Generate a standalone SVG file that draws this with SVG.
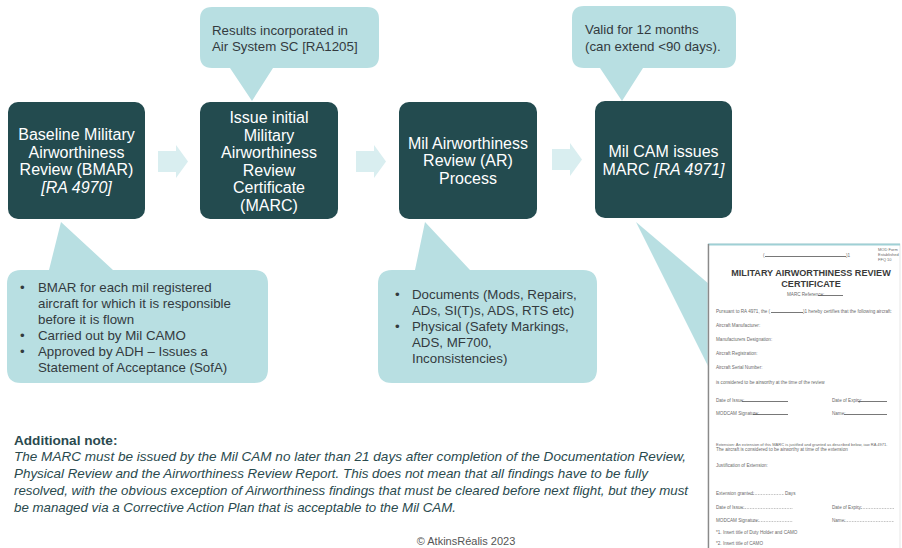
<svg xmlns="http://www.w3.org/2000/svg" width="902" height="548" viewBox="0 0 902 548">
<defs>
<style>
.box{fill:#234B4F;}
.call{fill:#B8DFE2;}
.arr{fill:#D9EEF0;}
.bt{font-family:"Liberation Sans",Arial,sans-serif;font-size:16px;fill:#FFFFFF;text-anchor:middle;}
.ct{font-family:"Liberation Sans",Arial,sans-serif;font-size:13.3px;fill:#333A3E;}
.note{font-family:"Liberation Sans",Arial,sans-serif;font-size:13.4px;fill:#2A4A4E;}
.cert{font-family:"Liberation Sans",Arial,sans-serif;font-size:4.6px;fill:#6A6A6A;}
.ln{stroke:#555;stroke-width:0.8;}
.dl{stroke:#888;stroke-width:0.6;stroke-dasharray:0.8 0.8;}
</style>
</defs>
<rect width="902" height="548" fill="#FFFFFF"/>

<!-- callouts -->
<g id="callout-results">
<path class="call" d="M212,7 H367 Q379,7 379,19 V56 Q379,68 367,68 H273 L252,101 L230,68 H212 Q200,68 200,56 V19 Q200,7 212,7 Z"/>
<text class="ct" x="212" y="35">Results incorporated in</text>
<text class="ct" x="212" y="51">Air System SC [RA1205]</text>
</g>
<g id="callout-valid">
<path class="call" d="M584,6 H724 Q736,6 736,18 V56 Q736,68 724,68 H643 L622,101 L600,68 H584 Q572,68 572,56 V18 Q572,6 584,6 Z"/>
<text class="ct" x="585" y="34">Valid for 12 months</text>
<text class="ct" x="585" y="51">(can extend &lt;90 days).</text>
</g>
<g id="callout-bmar">
<path class="call" d="M21,270 H49 L61,222 L113,270 H254 Q268,270 268,284 V369 Q268,383 254,383 H21 Q7,383 7,369 V284 Q7,270 21,270 Z"/>
<text class="ct" x="20" y="292">•</text><text class="ct" x="38" y="292">BMAR for each mil registered</text>
<text class="ct" x="38" y="308">aircraft for which it is responsible</text>
<text class="ct" x="38" y="324">before it is flown</text>
<text class="ct" x="20" y="340">•</text><text class="ct" x="38" y="340">Carried out by Mil CAMO</text>
<text class="ct" x="20" y="356">•</text><text class="ct" x="38" y="356">Approved by ADH – Issues a</text>
<text class="ct" x="38" y="372">Statement of Acceptance (SofA)</text>
</g>
<g id="callout-ar">
<path class="call" d="M392,270 H415 L425,222 L470,270 H583 Q597,270 597,284 V369 Q597,383 583,383 H392 Q378,383 378,369 V284 Q378,270 392,270 Z"/>
<text class="ct" x="395" y="299">•</text><text class="ct" x="412" y="299">Documents (Mods, Repairs,</text>
<text class="ct" x="412" y="315">ADs, SI(T)s, ADS, RTS etc)</text>
<text class="ct" x="395" y="331">•</text><text class="ct" x="412" y="331">Physical (Safety Markings,</text>
<text class="ct" x="412" y="347">ADS, MF700,</text>
<text class="ct" x="412" y="363">Inconsistencies)</text>
</g>
<g id="callout-cert">
<polygon class="call" points="636,222 709,284 709,368"/>
</g>

<!-- connectors -->
<g id="connectors">
<polygon class="arr" points="158,151 176,151 176,145 188,161.5 176,178 176,172 158,172"/>
<polygon class="arr" points="356,151 374,151 374,145 386,161.5 374,178 374,172 356,172"/>
<polygon class="arr" points="552,149 570,149 570,143 582,159.5 570,176 570,170 552,170"/>
</g>

<!-- process nodes -->
<g id="node-bmar">
<rect class="box" x="8" y="102" width="137" height="117" rx="10"/>
<text class="bt" x="76.5" y="140">Baseline Military</text>
<text class="bt" x="76.5" y="157.5">Airworthiness</text>
<text class="bt" x="76.5" y="175">Review (BMAR)</text>
<text class="bt" x="76.5" y="192.5" font-style="italic">[RA 4970]</text>
</g>
<g id="node-issue">
<rect class="box" x="200" y="102" width="138" height="117" rx="10"/>
<text class="bt" x="269" y="123">Issue initial</text>
<text class="bt" x="269" y="140.5">Military</text>
<text class="bt" x="269" y="158">Airworthiness</text>
<text class="bt" x="269" y="175.5">Review</text>
<text class="bt" x="269" y="193">Certificate</text>
<text class="bt" x="269" y="210.5">(MARC)</text>
</g>
<g id="node-ar">
<rect class="box" x="399" y="102" width="138" height="117" rx="10"/>
<text class="bt" x="468" y="148.5">Mil Airworthiness</text>
<text class="bt" x="468" y="166">Review (AR)</text>
<text class="bt" x="468" y="183.5">Process</text>
</g>
<g id="node-marc">
<rect class="box" x="595" y="101" width="137" height="117" rx="10"/>
<text class="bt" x="663.5" y="157">Mil CAM issues</text>
<text class="bt" x="663.5" y="174.5">MARC <tspan font-style="italic">[RA 4971]</tspan></text>
</g>

<!-- certificate -->
<g id="certificate">
<rect x="708" y="244" width="192" height="306" fill="#FFFFFF" stroke="#E2E2E2" stroke-width="0.8"/>
<line x1="708" y1="244.5" x2="900" y2="244.5" stroke="#9FD0D5" stroke-width="2"/>
<line x1="708.5" y1="244" x2="708.5" y2="548" stroke="#8A8A8A" stroke-width="1.4"/>
<text class="cert" x="763" y="257">(</text>
<line class="ln" x1="765" y1="256.5" x2="846" y2="256.5"/>
<text class="cert" x="846" y="257">)1</text>
<text class="cert" x="878" y="251" style="font-size:4px">MOD Form</text>
<text class="cert" x="878" y="256" style="font-size:4px">Established</text>
<text class="cert" x="878" y="261" style="font-size:4px">FFQ 10</text>
<text x="811" y="276" font-family="Liberation Sans,Arial,sans-serif" font-size="9.1" font-weight="bold" fill="#3A3A3A" text-anchor="middle">MILITARY AIRWORTHINESS REVIEW</text>
<text x="811" y="287" font-family="Liberation Sans,Arial,sans-serif" font-size="9.1" font-weight="bold" fill="#3A3A3A" text-anchor="middle">CERTIFICATE</text>
<text class="cert" x="787" y="296">MARC Reference:</text>
<line class="ln" x1="818" y1="295.5" x2="843" y2="295.5"/>
<text class="cert" x="716" y="313">Pursuant to RA 4971, the (</text>
<line class="ln" x1="771" y1="312.5" x2="803" y2="312.5"/>
<text class="cert" x="803" y="313">)1  hereby certifies that the following aircraft:</text>
<text class="cert" x="716" y="327">Aircraft Manufacturer:</text>
<text class="cert" x="716" y="341">Manufacturers Designation:</text>
<text class="cert" x="716" y="355">Aircraft Registration:</text>
<text class="cert" x="716" y="369">Aircraft Serial Number:</text>
<text class="cert" x="716" y="384">is considered to be airworthy at the time of the review</text>
<text class="cert" x="716" y="402">Date of Issue:</text>
<line class="ln" x1="742" y1="401.5" x2="788" y2="401.5"/>
<text class="cert" x="832" y="402">Date of Expiry:</text>
<line class="ln" x1="858" y1="401.5" x2="887" y2="401.5"/>
<text class="cert" x="716" y="415">MODCAM Signature:</text>
<line class="ln" x1="753" y1="414.5" x2="788" y2="414.5"/>
<text class="cert" x="832" y="415">Name:</text>
<line class="ln" x1="844" y1="414.5" x2="887" y2="414.5"/>
<text class="cert" x="716" y="446" style="font-size:4.05px">Extension: An extension of this MARC is justified and granted as described below, iaw RA 4971.</text>
<text class="cert" x="716" y="451">The aircraft is considered to be airworthy at time of the extension</text>
<text class="cert" x="716" y="467">Justification of Extension:</text>
<text class="cert" x="716" y="495">Extension granted:</text>
<line class="dl" x1="750" y1="494.5" x2="784" y2="494.5"/>
<text class="cert" x="785" y="495">Days</text>
<text class="cert" x="716" y="509">Date of Issue:</text>
<line class="dl" x1="742" y1="508.5" x2="793" y2="508.5"/>
<text class="cert" x="832" y="509">Date of Expiry:</text>
<line class="dl" x1="858" y1="508.5" x2="894" y2="508.5"/>
<text class="cert" x="716" y="522">MODCAM Signature:</text>
<line class="dl" x1="753" y1="521.5" x2="793" y2="521.5"/>
<text class="cert" x="832" y="522">Name:</text>
<line class="dl" x1="844" y1="521.5" x2="894" y2="521.5"/>
<text class="cert" x="716" y="534">*1. Insert title of Duty Holder and CAMO</text>
<text class="cert" x="716" y="545">*2. Insert title of CAMO</text>
</g>

<!-- note -->
<g id="note">
<text class="note" x="14" y="445" font-weight="bold" style="font-size:13.6px">Additional note:</text>
<text class="note" x="14" y="461" font-style="italic" textLength="672" lengthAdjust="spacingAndGlyphs">The MARC must be issued by the Mil CAM no later than 21 days after completion of the Documentation Review,</text>
<text class="note" x="14" y="478" font-style="italic" textLength="634" lengthAdjust="spacingAndGlyphs">Physical Review and the Airworthiness Review Report. This does not mean that all findings have to be fully</text>
<text class="note" x="14" y="495" font-style="italic" textLength="674" lengthAdjust="spacingAndGlyphs">resolved, with the obvious exception of Airworthiness findings that must be cleared before next flight, but they must</text>
<text class="note" x="14" y="512" font-style="italic" textLength="442" lengthAdjust="spacingAndGlyphs">be managed via a Corrective Action Plan that is acceptable to the Mil CAM.</text>
<text x="466" y="545" font-family="Liberation Sans,Arial,sans-serif" font-size="11" fill="#555555" text-anchor="middle">© AtkinsRéalis  2023</text>
</g>
</svg>
